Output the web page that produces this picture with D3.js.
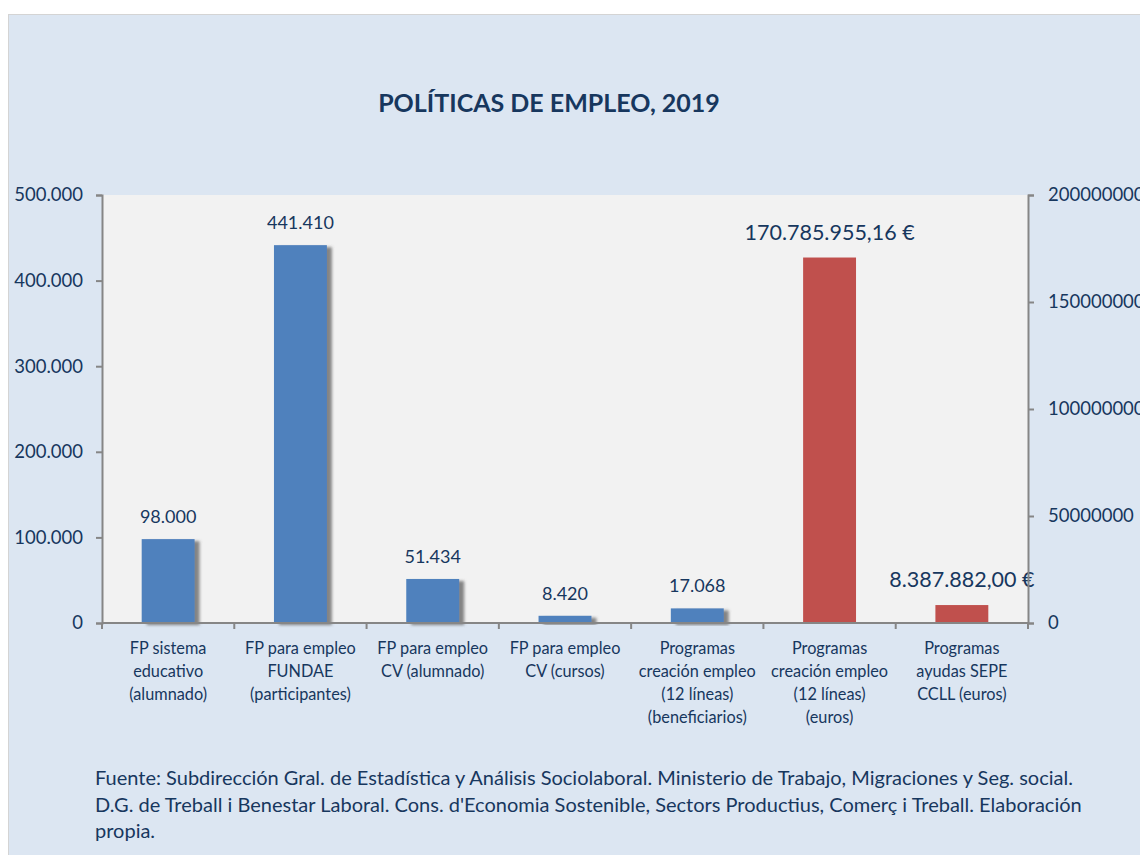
<!DOCTYPE html>
<html>
<head>
<meta charset="utf-8">
<script src="https://cdn.jsdelivr.net/npm/d3@7"></script>
<style>
  body { margin: 0; background: #fff; }
  svg text { font-family: Lato, "Open Sans", sans-serif; fill: #17375E; }
</style>
</head>
<body>
<div id="chart"></div>
<script>
'use strict';

// Data
var categories = [
  ['FP sistema', 'educativo', '(alumnado)'],
  ['FP para empleo', 'FUNDAE', '(participantes)'],
  ['FP para empleo', 'CV (alumnado)'],
  ['FP para empleo', 'CV (cursos)'],
  ['Programas', 'creación empleo', '(12 líneas)', '(beneficiarios)'],
  ['Programas', 'creación empleo', '(12 líneas)', '(euros)'],
  ['Programas', 'ayudas SEPE', 'CCLL (euros)']
];
var personas = [98000, 441410, 51434, 8420, 17068, null, null];
var euros = [null, null, null, null, null, 170785955.16, 8387882.00];
var leftTicks = [0, 100000, 200000, 300000, 400000, 500000];
var rightTicks = [0, 50000000, 100000000, 150000000, 200000000];
var title = 'POLÍTICAS DE EMPLEO, 2019';
var fuente = [
  'Fuente: Subdirección Gral. de Estadística y Análisis Sociolaboral. Ministerio de Trabajo, Migraciones y Seg. social.',
  "D.G. de Treball i Benestar Laboral. Cons. d'Economia Sostenible, Sectors Productius, Comerç i Treball. Elaboración",
  'propia.'
];

var es = d3.formatLocale({decimal: ',', thousands: '.', grouping: [3], currency: ['', ' €']});
var fmtInt = es.format(',.0f');
var fmtEur = es.format('$,.2f');

var W = 1140, H = 855;
var margin = {top: 195, right: 112, bottom: 232, left: 102};
var width = W - margin.left - margin.right;
var height = H - margin.top - margin.bottom;

var svg = d3.select('#chart').append('svg')
  .attr('width', W)
  .attr('height', H);

var defs = svg.append('defs');
var shadow = defs.append('filter').attr('id', 'shadow')
  .attr('x', '-10%').attr('y', '-10%').attr('width', '140%').attr('height', '130%');
shadow.append('feDropShadow')
  .attr('dx', 5).attr('dy', 2)
  .attr('stdDeviation', 1.6)
  .attr('flood-color', '#606060')
  .attr('flood-opacity', 0.75);

// Panel
svg.append('rect')
  .attr('x', 8.5).attr('y', 14.5)
  .attr('width', W).attr('height', H)
  .attr('fill', '#DCE6F2')
  .attr('stroke', '#D4D4D4');

svg.append('text')
  .attr('x', 549).attr('y', 112)
  .attr('text-anchor', 'middle')
  .attr('font-size', 25).attr('font-weight', 'bold')
  .text(title);

var g = svg.append('g')
  .attr('transform', 'translate(' + margin.left + ',' + margin.top + ')');

g.append('rect')
  .attr('width', width).attr('height', height)
  .attr('fill', '#F2F2F2');

// Scales
var x = d3.scaleBand()
  .domain(d3.range(categories.length))
  .range([0, width])
  .padding(0);

var yL = d3.scaleLinear().domain([0, 500000]).range([height, 0]);
var yR = d3.scaleLinear().domain([0, 200000000]).range([height, 0]);

var bw = x.bandwidth() * 0.4;

// Bars
var left = personas.map(function(v, i) { return {i: i, v: v}; }).filter(function(d) { return d.v != null; });
var right = euros.map(function(v, i) { return {i: i, v: v}; }).filter(function(d) { return d.v != null; });

g.selectAll('.bar-left')
  .data(left)
  .enter().append('rect')
    .attr('class', 'bar-left')
    .attr('x', function(d) { return x(d.i) + (x.bandwidth() - bw) / 2; })
    .attr('y', function(d) { return yL(d.v); })
    .attr('width', bw)
    .attr('height', function(d) { return height - yL(d.v); })
    .attr('fill', '#4F81BD')
    .attr('filter', 'url(#shadow)');

g.selectAll('.bar-right')
  .data(right)
  .enter().append('rect')
    .attr('class', 'bar-right')
    .attr('x', function(d) { return x(d.i) + (x.bandwidth() - bw) / 2; })
    .attr('y', function(d) { return yR(d.v); })
    .attr('width', bw)
    .attr('height', function(d) { return height - yR(d.v); })
    .attr('fill', '#C0504D');

// Value labels
g.selectAll('.lab-left')
  .data(left)
  .enter().append('text')
    .attr('x', function(d) { return x(d.i) + x.bandwidth() / 2; })
    .attr('y', function(d) { return yL(d.v) - 16; })
    .attr('text-anchor', 'middle')
    .attr('font-size', 18)
    .text(function(d) { return fmtInt(d.v); });

g.selectAll('.lab-right')
  .data(right)
  .enter().append('text')
    .attr('x', function(d) { return x(d.i) + x.bandwidth() / 2; })
    .attr('y', function(d) { return yR(d.v) - 18; })
    .attr('text-anchor', 'middle')
    .attr('font-size', 21.5)
    .text(function(d) { return fmtEur(d.v); });

// Axes
var axisColor = '#868686';

var yAxisL = d3.axisLeft(yL).tickValues(leftTicks).tickSize(6).tickPadding(13)
  .tickFormat(function(d) { return fmtInt(d); });
// right axis labels run past the page edge, as in the original
var yAxisR = d3.axisRight(yR).tickValues(rightTicks).tickSize(6).tickPadding(14)
  .tickFormat(function(d) { return d3.format('d')(d); });

var gl = g.append('g').attr('class', 'axis axis--yl').call(yAxisL);
var gr = g.append('g').attr('class', 'axis axis--yr')
  .attr('transform', 'translate(' + width + ',0)').call(yAxisR);

// x axis: ticks at band boundaries
var gx = g.append('g').attr('class', 'axis axis--x')
  .attr('transform', 'translate(0,' + height + ')');
gx.append('line')
  .attr('x1', 0).attr('x2', width)
  .attr('stroke', axisColor).attr('stroke-width', 2);
gx.selectAll('.xtick')
  .data(d3.range(categories.length + 1))
  .enter().append('line')
    .attr('x1', function(d) { return d * x.step(); })
    .attr('x2', function(d) { return d * x.step(); })
    .attr('y1', 0).attr('y2', 6)
    .attr('stroke', axisColor).attr('stroke-width', 2);

[gl, gr].forEach(function(a) {
  a.select('.domain').attr('stroke', axisColor).attr('stroke-width', 2);
  a.selectAll('.tick line').attr('stroke', axisColor).attr('stroke-width', 2);
  a.selectAll('.tick text').attr('font-size', 18.5).attr('fill', '#17375E')
    .attr('font-family', 'Lato, sans-serif');
});

// Category labels
var cl = gx.selectAll('.cat')
  .data(categories)
  .enter().append('text')
    .attr('class', 'cat')
    .attr('text-anchor', 'middle')
    .attr('font-size', 16.3)
    .attr('transform', function(d, i) { return 'translate(' + (x(i) + x.bandwidth() / 2) + ',31)'; });
cl.selectAll('tspan')
  .data(function(d) { return d; })
  .enter().append('tspan')
    .attr('x', 0)
    .attr('y', function(d, i) { return i * 23; })
    .text(function(d) { return d; });

// Source note
svg.append('g').selectAll('text')
  .data(fuente)
  .enter().append('text')
    .attr('x', 95)
    .attr('y', function(d, i) { return 785 + i * 26.5; })
    .attr('font-size', 20)
    .text(function(d) { return d; });
</script>
</body>
</html>
